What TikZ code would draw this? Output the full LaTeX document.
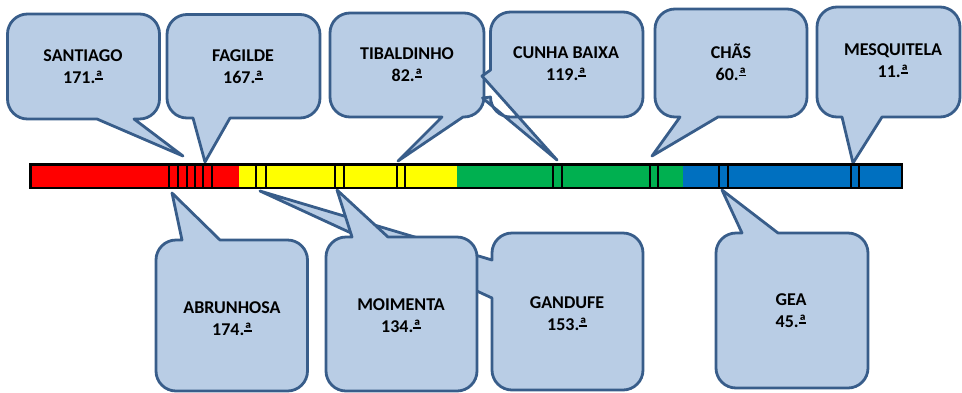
\documentclass[tikz,border=0pt]{standalone}
\usepackage{fontspec}
\setmainfont{Carlito}
\definecolor{bubfill}{HTML}{B9CDE5}
\definecolor{bubline}{HTML}{385D8A}
\definecolor{barred}{HTML}{FF0000}
\definecolor{baryellow}{HTML}{FFFF00}
\definecolor{bargreen}{HTML}{00B050}
\definecolor{barblue}{HTML}{0070C0}
\def\R{20}
% ordinal indicator with its underline bar, as printed
\newcommand\orda{\setbox0=\hbox{ª}\rlap{\copy0}\rlap{\raisebox{0.24em}{\rule{\wd0}{0.065em}}}\hbox to \wd0{}}
% #1 x1, #2 y1 (top, negative), #3 x2, #4 y2 (bottom, negative)
% #5 bottom-edge insert (right to left), #6 left-edge insert (bottom to top), #7 top-edge insert (left to right)
\newcommand\bubblepath[7]{%
  \filldraw[bubshape] ({#1+\R},{#2}) -- #7 ({#3-\R},{#2})
    arc[start angle=90,end angle=0,radius=\R pt]
    -- ({#3},{#4+\R}) arc[start angle=0,end angle=-90,radius=\R pt]
    -- #5 ({#1+\R},{#4}) arc[start angle=270,end angle=180,radius=\R pt]
    -- #6 ({#1},{#2-\R}) arc[start angle=180,end angle=90,radius=\R pt] -- cycle;}
\begin{document}
\begin{tikzpicture}[x=1pt,y=1pt,
  bubshape/.style={fill=bubfill,draw=bubline,line width=2.8pt,line join=round},
  bubtext/.style={font=\bfseries\fontsize{18}{22}\selectfont,align=center,inner sep=0pt,text=black},
  barline/.style={draw=black,line width=2.4pt},
  tickline/.style={draw=black,line width=2pt}]
\useasboundingbox (0,0) rectangle (962,-392);

% top row
\bubblepath{7.5}{-14}{159.5}{-119}{(134,-119) -- (183,-156) -- (97,-119) --}{}{}
\bubblepath{167}{-14.5}{320}{-118}{(230,-118) -- (205,-162) -- (193,-118) --}{}{}
\bubblepath{330}{-13}{484}{-117}{(463,-117) -- (398,-161) -- (442,-117) --}{}{}
\bubblepath{490.5}{-12}{643}{-117}{}{(482.5,-98) -- (557,-160) -- (482,-76) -- (490.5,-70) --}{}
\bubblepath{655}{-9}{807}{-117}{(718,-117) -- (652,-156) -- (680,-117) --}{}{}
\bubblepath{817}{-7}{960}{-117}{(882,-117) -- (853,-163) -- (842,-117) --}{}{}

% bottom row
\bubblepath{156}{-240}{307.5}{-391}{}{}{(182,-240) -- (172,-193) -- (220,-240) --}
\bubblepath{492}{-233}{643}{-390}{}{(492,-298) -- (260,-191) -- (492,-260) --}{}
\bubblepath{326}{-237}{477}{-391}{}{}{(352,-237) -- (337,-190) -- (388,-237) --}
\bubblepath{716}{-233}{868}{-388}{}{}{(742,-233) -- (722,-190) -- (778,-233) --}

% bar
\fill[barred] (30.3,-164.5) rectangle (238.7,-188);
\fill[baryellow] (238.7,-164.5) rectangle (456.7,-188);
\fill[bargreen] (456.7,-164.5) rectangle (683.3,-188);
\fill[barblue] (683.3,-164.5) rectangle (902,-188);
\foreach \t in {168.7,177.5,186.5,195,203.3,212,255.7,265.7,335,343.7,396.7,405,553.3,561.7,650,658.3,719.3,727.7,850.7,859}
  \draw[tickline] (\t,-164.5) -- (\t,-188);
\draw[barline] (30.3,-164.5) rectangle (902,-188);

% texts
\node[bubtext] (santiago) at (83,-67) {SANTIAGO\\171.\orda};
\node[bubtext] (fagilde) at (243,-67) {FAGILDE\\167.\orda};
\node[bubtext] (tibaldinho) at (407,-65) {TIBALDINHO\\82.\orda};
\node[bubtext] (cunhabaixa) at (566,-64) {CUNHA BAIXA\\119.\orda};
\node[bubtext] (chas) at (731,-62) {CHÃS\\60.\orda};
\node[bubtext] (mesquitela) at (893,-61) {MESQUITELA\\11.\orda};
\node[bubtext] (abrunhosa) at (232,-319) {ABRUNHOSA\\174.\orda};
\node[bubtext] (moimenta) at (401,-316) {MOIMENTA\\134.\orda};
\node[bubtext] (gandufe) at (567,-314) {GANDUFE\\153.\orda};
\node[bubtext] (gea) at (791,-311) {GEA\\45.\orda};
\end{tikzpicture}
\end{document}
